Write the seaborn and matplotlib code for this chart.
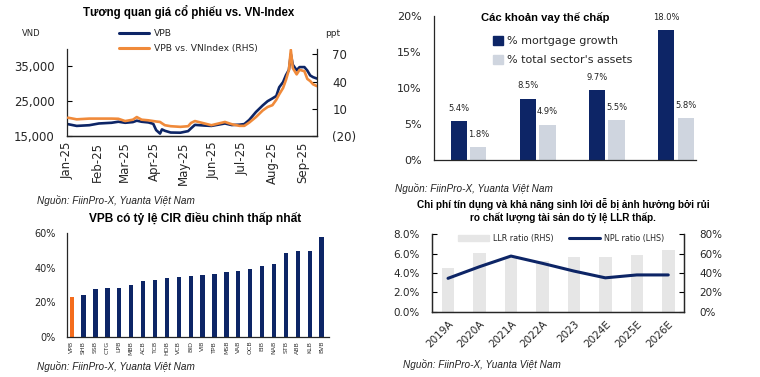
import numpy as np
import pandas as pd
import matplotlib
matplotlib.use("Agg")
import matplotlib.pyplot as plt
import matplotlib.dates as mdates
from matplotlib.ticker import FixedLocator, FuncFormatter
from matplotlib.patches import Patch
from matplotlib.lines import Line2D
import seaborn as sns

# ---------------- data ----------------
# Panel 1: VPB price (VND) and VPB vs. VNIndex (ppt)
p1_dates = ["2025-01-02", "2025-01-11", "2025-01-24", "2025-02-03", "2025-02-16", "2025-02-23",
            "2025-03-02", "2025-03-10", "2025-03-14", "2025-03-19", "2025-03-26", "2025-03-31",
            "2025-04-03", "2025-04-07", "2025-04-09", "2025-04-12", "2025-04-18", "2025-04-28",
            "2025-05-06", "2025-05-09", "2025-05-13", "2025-05-23", "2025-05-30", "2025-06-13",
            "2025-06-20", "2025-06-28", "2025-07-03", "2025-07-08", "2025-07-15", "2025-07-22",
            "2025-07-27", "2025-08-01", "2025-08-05", "2025-08-08", "2025-08-12", "2025-08-15",
            "2025-08-18", "2025-08-20", "2025-08-22", "2025-08-26", "2025-08-29", "2025-09-03",
            "2025-09-06", "2025-09-09", "2025-09-12", "2025-09-16"]
vpb_price = [18400, 17900, 18100, 18600, 18800, 19100,
             18800, 19000, 19400, 19100, 18900, 18500,
             16700, 15700, 16900, 16500, 16000, 15950,
             16400, 17200, 18200, 18000, 17900, 18600,
             18150, 18250, 18430, 19600, 21900, 23800,
             25000, 25800, 26500, 29000, 30500, 32500,
             34000, 38500, 35500, 33900, 34800, 34800,
             33800, 32400, 31900, 31500]
vpb_rel = [0.2, -1.6, -0.8, -0.8, -0.8, -1.0,
           -3.5, -2.0, 0.9, -2.0, -2.7, -3.5,
           -4.0, -4.5, -6.0, -8.1, -9.2, -9.9,
           -9.2, -5.6, -3.5, -6.2, -8.1, -4.5,
           -7.0, -8.8, -8.8, -5.2, 0.9, 8.2,
           12.0, 14.0, 20.0, 26.0, 33.0, 42.0,
           53.0, 75.0, 55.0, 48.0, 53.0, 51.5,
           43.0, 40.6, 37.0, 35.0]

# Panel 2: mortgage loans
p2_groups = ["1", "2", "3", "4"]
mortgage_growth = [5.4, 8.5, 9.7, 18.0]
sector_assets = [1.8, 4.9, 5.5, 5.8]
p2_series = ["% mortgage growth", "% total sector's assets"]

# Panel 3: CIR
banks = ["VPB", "SHB", "SSB", "CTG", "LPB", "MBB", "ACB", "TCB", "HDB", "VCB", "BID",
         "VIB", "TPB", "MSB", "VAB", "OCB", "EIB", "NAB", "STB", "ABB", "KLB", "BVB"]
cir = [23.0, 24.0, 27.5, 28.0, 28.5, 30.0, 32.5, 33.0, 34.0, 34.5, 35.0,
       36.0, 36.5, 37.5, 38.0, 39.0, 41.0, 42.0, 48.5, 50.0, 50.0, 58.0]

# Panel 4: LLR / NPL
years = ["2019A", "2020A", "2021A", "2022A", "2023", "2024E", "2025E", "2026E"]
llr_ratio = [45.5, 61.0, 56.0, 52.0, 56.5, 56.5, 58.5, 63.5]
npl_ratio = [3.45, 4.65, 5.75, 5.0, 4.2, 3.5, 3.8, 3.8]

# ---------------- style ----------------
sns.set_theme(style="white")
plt.rcParams['font.family'] = ['DejaVu Sans']
plt.rcParams['axes.linewidth'] = 0.9

NAVY = "#0d2566"
ORANGE = "#f08a3a"
ORANGE_BAR = "#f46c1c"
LGRAY = "#cfd5df"
GRAY4 = "#e6e6e6"
TITLE_FONT = dict(family=['Liberation Sans', 'DejaVu Sans'], weight='bold', color='black')
SRC_FONT = dict(family=['Liberation Sans', 'DejaVu Sans'], style='italic', color='#222222')
SRC = "Nguồn: FiinPro-X, Yuanta Việt Nam"
BAR_KW = dict(saturation=1, errorbar=None, linewidth=0, edgecolor='none')

W, H = 760, 377
fig = plt.figure(figsize=(W / 100, H / 100), dpi=100)
fig.patch.set_facecolor("white")


def axrect(l, t, r, b):
    return fig.add_axes([l / W, 1 - b / H, (r - l) / W, (b - t) / H])


def style_ticks(ax, **kw):
    ax.tick_params(direction='in', length=3.5, width=0.8, color='black', **kw)


# ---------------- Panel 1 ----------------
ax1 = axrect(67, 49, 317, 136)
df1 = pd.DataFrame({"date": pd.to_datetime(p1_dates), "VPB": vpb_price, "rel": vpb_rel})
sns.lineplot(data=df1, x="date", y="VPB", ax=ax1, color=NAVY, lw=1.9)
ax1b = ax1.twinx()
sns.lineplot(data=df1, x="date", y="rel", ax=ax1b, color=ORANGE, lw=1.9)
ax1.set_xlim(pd.Timestamp("2025-01-01"), pd.Timestamp("2025-09-16"))
ax1.set_ylim(15000, 40000)
ax1b.set_ylim(-20, 76)
ax1.yaxis.set_major_locator(FixedLocator([15000, 25000, 35000]))
ax1.yaxis.set_major_formatter(FuncFormatter(lambda v, p: f"{v:,.0f}"))
ax1b.yaxis.set_major_locator(FixedLocator([-20, 10, 40, 70]))
ax1b.yaxis.set_major_formatter(FuncFormatter(lambda v, p: f"({abs(v):.0f})" if v < 0 else f"{v:.0f}"))
ax1.xaxis.set_major_locator(mdates.MonthLocator())
ax1.xaxis.set_major_formatter(mdates.DateFormatter("%b-%y"))
for a in (ax1, ax1b):
    a.set_xlabel("")
    a.set_ylabel("")
    a.spines['top'].set_visible(False)
ax1b.spines['left'].set_visible(False)
ax1.spines['right'].set_visible(False)
style_ticks(ax1, axis='x', labelsize=8.5, pad=4)
style_ticks(ax1, axis='y', labelsize=8.5, pad=9)
style_ticks(ax1b, axis='y', labelsize=8.5, pad=11)
plt.setp(ax1.get_xticklabels(), rotation=90)
ax1.legend(handles=[Line2D([], [], color=NAVY, lw=2.2), Line2D([], [], color=ORANGE, lw=2.2)],
           labels=["VPB", "VPB vs. VNIndex (RHS)"], loc='center left',
           bbox_to_anchor=(119 / W, 1 - 41 / H), bbox_transform=fig.transFigure,
           frameon=False, fontsize=6.6, handlelength=3.3, handletextpad=0.55,
           labelspacing=0.6, borderpad=0, borderaxespad=0)
fig.text(31 / W, 1 - 33 / H, "VND", ha='center', va='center', fontsize=6)
fig.text(333 / W, 1 - 34 / H, "ppt", ha='center', va='center', fontsize=6.5)
fig.text(189 / W, 1 - 12 / H, "Tương quan giá cổ phiếu vs. VN-Index", ha='center', va='center',
         fontsize=8.3, **TITLE_FONT)
fig.text(37 / W, 1 - 201 / H, SRC, ha='left', va='center', fontsize=7.2, **SRC_FONT)

# ---------------- Panel 2 ----------------
ax2 = axrect(434, 16, 696, 160)
df2 = pd.DataFrame({
    "group": p2_groups * 2,
    "series": [p2_series[0]] * 4 + [p2_series[1]] * 4,
    "value": mortgage_growth + sector_assets,
})
sns.barplot(data=df2, x="group", y="value", hue="series", palette=[NAVY, LGRAY],
            width=0.56, gap=0.16, ax=ax2, legend=False, **BAR_KW)
for cont, vals in zip(ax2.containers, [mortgage_growth, sector_assets]):
    ax2.bar_label(cont, labels=[f"{v:.1f}%" for v in vals], padding=6, fontsize=6, color='#222222')
ax2.set_ylim(0, 20)
ax2.set_xlim(-0.5, 3.29)
ax2.yaxis.set_major_locator(FixedLocator([0, 5, 10, 15, 20]))
ax2.yaxis.set_major_formatter(FuncFormatter(lambda v, p: f"{v:.0f}%"))
ax2.set_xticks([0.5, 1.5, 2.5])
ax2.set_xticklabels([])
ax2.set_xlabel("")
ax2.set_ylabel("")
ax2.spines['top'].set_visible(False)
ax2.spines['right'].set_visible(False)
style_ticks(ax2, axis='both', labelsize=8, pad=9)
ax2.legend(handles=[Patch(color=NAVY), Patch(color=LGRAY)], labels=p2_series,
           loc='center left', bbox_to_anchor=(493 / W, 1 - 50.5 / H), bbox_transform=fig.transFigure,
           frameon=False, fontsize=8, handlelength=0.9, handleheight=0.9, handletextpad=0.35,
           labelspacing=0.75, borderpad=0, borderaxespad=0)
fig.text(545 / W, 1 - 18 / H, "Các khoản vay thế chấp", ha='center', va='center',
         fontsize=8.1, **TITLE_FONT)
fig.text(395 / W, 1 - 189 / H, SRC, ha='left', va='center', fontsize=7.2, **SRC_FONT)

# ---------------- Panel 3 ----------------
ax3 = axrect(66.7, 233.3, 329, 336.7)
sns.barplot(x=banks, y=cir, hue=banks, palette=[ORANGE_BAR] + [NAVY] * (len(banks) - 1),
            legend=False, width=0.36, dodge=False, ax=ax3, **BAR_KW)
ax3.set_xlim(-0.42, len(banks) - 0.38)
ax3.set_ylim(0, 60)
ax3.yaxis.set_major_locator(FixedLocator([0, 20, 40, 60]))
ax3.yaxis.set_major_formatter(FuncFormatter(lambda v, p: f"{v:.0f}%"))
ax3.set_xticks(range(len(banks)))
ax3.set_xticklabels(banks, rotation=90)
ax3.xaxis.set_minor_locator(FixedLocator(np.arange(len(banks)) + 0.5))
ax3.spines['top'].set_visible(False)
ax3.spines['right'].set_visible(False)
style_ticks(ax3, axis='y', labelsize=7, pad=8)
ax3.tick_params(axis='x', which='major', length=0, labelsize=4.5, pad=3, labelcolor='#333333')
ax3.tick_params(axis='x', which='minor', direction='in', length=2.5, width=0.8, color='black')
fig.text(195 / W, 1 - 218 / H, "VPB có tỷ lệ CIR điều chỉnh thấp nhất", ha='center', va='center',
         fontsize=8.6, **TITLE_FONT)
fig.text(37 / W, 1 - 367 / H, SRC, ha='left', va='center', fontsize=7.2, **SRC_FONT)

# ---------------- Panel 4 ----------------
ax4 = axrect(432.3, 234.3, 684, 311.7)
ax4b = ax4.twinx()
sns.lineplot(x=np.arange(len(years)), y=npl_ratio, ax=ax4, color=NAVY, lw=2.2)
sns.barplot(x=years, y=llr_ratio, ax=ax4b, color=GRAY4, width=0.4, **BAR_KW)
ax4.set_zorder(ax4b.get_zorder() + 1)
ax4.patch.set_visible(False)
ax4.set_xlim(-0.5, len(years) - 0.5)
ax4.set_ylim(0, 8)
ax4b.set_ylim(0, 80)
ax4.yaxis.set_major_locator(FixedLocator([0, 2, 4, 6, 8]))
ax4.yaxis.set_major_formatter(FuncFormatter(lambda v, p: f"{v:.1f}%"))
ax4b.yaxis.set_major_locator(FixedLocator([0, 20, 40, 60, 80]))
ax4b.yaxis.set_major_formatter(FuncFormatter(lambda v, p: f"{v:.0f}%"))
ax4.set_xticks(range(len(years)))
ax4.set_xticklabels(years, rotation=45, ha='right', rotation_mode='anchor')
ax4.xaxis.set_minor_locator(FixedLocator(np.arange(len(years) - 1) + 0.5))
for a in (ax4, ax4b):
    a.set_xlabel("")
    a.set_ylabel("")
    a.spines['top'].set_visible(False)
style_ticks(ax4, axis='y', labelsize=7.5, pad=9)
style_ticks(ax4b, axis='y', labelsize=7.5, pad=11)
ax4.tick_params(axis='x', which='major', length=0, labelsize=7.5, pad=5)
ax4.tick_params(axis='x', which='minor', direction='in', length=3.5, width=0.8, color='black')
ax4.legend(handles=[Patch(color=GRAY4), Line2D([], [], color=NAVY, lw=2.2)],
           labels=["LLR ratio (RHS)", "NPL ratio (LHS)"], ncol=2, loc='center left',
           bbox_to_anchor=(458 / W, 1 - 238 / H), bbox_transform=fig.transFigure,
           frameon=False, fontsize=5.8, handlelength=3.8, handletextpad=0.5,
           columnspacing=2.0, borderpad=0, borderaxespad=0)
fig.text(563 / W, 1 - 211 / H,
         "Chi phí tín dụng và khả năng sinh lời dễ bị ảnh hưởng bởi rủi\nro chất lượng tài sản do tỷ lệ LLR thấp.",
         ha='center', va='center', fontsize=7.2, linespacing=1.25, **TITLE_FONT)
fig.text(403 / W, 1 - 365 / H, SRC, ha='left', va='center', fontsize=7.2, **SRC_FONT)

fig.savefig("out.png", dpi=100, facecolor="white")
